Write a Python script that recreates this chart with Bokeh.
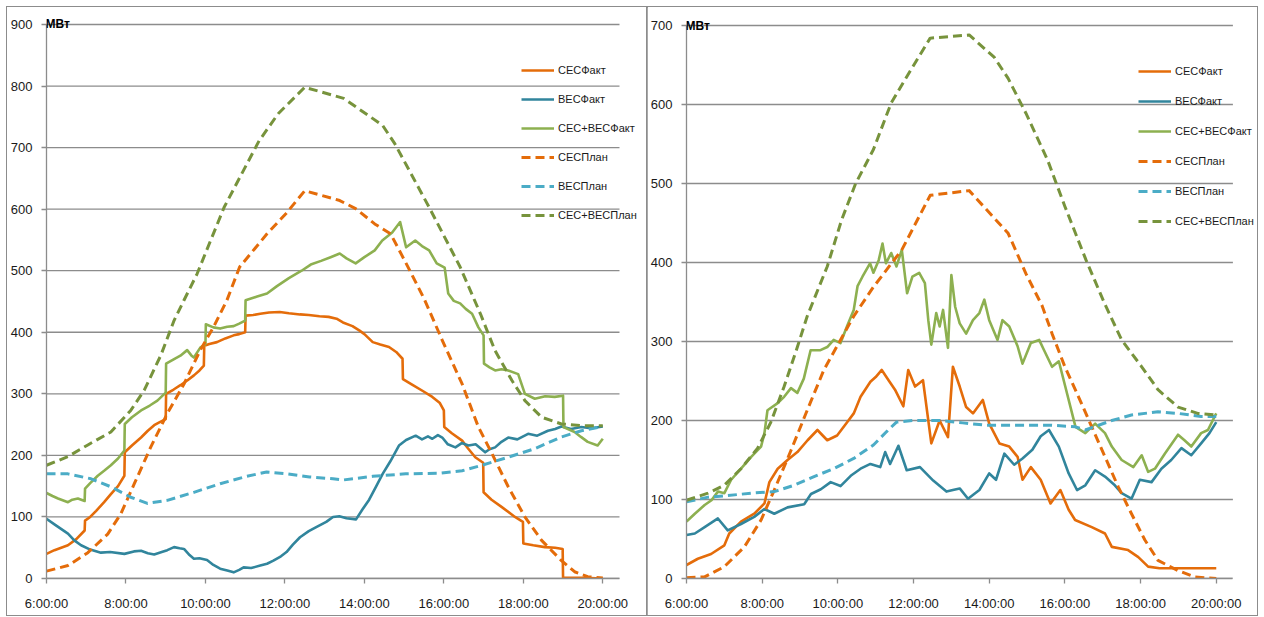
from bokeh.plotting import figure
from bokeh.layouts import row, column
from bokeh.models import (FixedTicker, CustomJSTickFormatter, Label, Legend,
                          LegendItem, Range1d, Spacer)
from bokeh.embed import file_html
from bokeh.resources import INLINE

FONT = "Liberation Sans"

# ---------------- data (hour of day, MW) ----------------
series_names = ["СЕСФакт", "ВЕСФакт", "СЕС+ВЕСФакт", "СЕСПлан", "ВЕСПлан", "СЕС+ВЕСПлан"]
x_ticks = [6, 8, 10, 12, 14, 16, 18, 20]

# left chart
left_ses_fact = [(6.00, 40), (6.20, 46), (6.54, 54), (6.75, 64), (6.96, 78), (6.97, 94), (7.10, 100), (7.25, 110),
                 (7.45, 124), (7.62, 137), (7.80, 150), (7.96, 167), (7.97, 205), (8.15, 216), (8.38, 229), (8.55, 240),
                 (8.71, 249), (8.85, 254), (9.00, 259), (9.01, 300), (9.20, 307), (9.37, 314), (9.55, 322), (9.71, 330),
                 (9.85, 338), (9.96, 346), (9.97, 378), (10.10, 381), (10.29, 384), (10.50, 390), (10.71, 395),
                 (10.85, 397), (11.00, 400), (11.01, 427), (11.20, 428), (11.38, 430), (11.60, 432), (11.87, 433),
                 (12.10, 431), (12.38, 429), (12.60, 428), (12.87, 426), (13.10, 425), (13.30, 422), (13.46, 416),
                 (13.70, 410), (13.87, 403), (14.00, 397), (14.21, 384), (14.40, 380), (14.62, 376), (14.80, 368),
                 (14.96, 357), (14.97, 324), (15.20, 315), (15.46, 305), (15.71, 295), (15.90, 285), (16.00, 273),
                 (16.01, 246), (16.20, 236), (16.46, 224), (16.60, 212), (16.79, 197), (16.99, 188), (17.00, 140),
                 (17.20, 128), (17.46, 116), (17.79, 100), (17.99, 92), (18.00, 57), (18.25, 54), (18.54, 51),
                 (18.80, 50), (18.99, 48), (19.00, 1), (19.50, 1), (20.00, 0)]
left_ves_fact = [(6.00, 97), (6.20, 88), (6.54, 73), (6.70, 62), (6.87, 54), (7.10, 47), (7.37, 42), (7.60, 43),
                 (7.96, 40), (8.20, 44), (8.38, 45), (8.55, 41), (8.71, 39), (8.90, 43), (9.04, 46), (9.21, 51),
                 (9.35, 49), (9.46, 48), (9.60, 38), (9.71, 32), (9.85, 33), (10.04, 30), (10.20, 22), (10.37, 16),
                 (10.55, 13), (10.71, 10), (10.85, 14), (10.96, 18), (11.15, 17), (11.38, 21), (11.55, 24),
                 (11.71, 29), (11.90, 36), (12.04, 43), (12.20, 55), (12.38, 67), (12.60, 77), (12.80, 84),
                 (13.04, 92), (13.21, 100), (13.37, 101), (13.55, 98), (13.79, 96), (13.95, 112), (14.12, 128),
                 (14.30, 150), (14.46, 170), (14.65, 190), (14.87, 216), (15.05, 225), (15.29, 232), (15.45, 226),
                 (15.60, 231), (15.71, 227), (15.85, 233), (15.96, 229), (16.10, 218), (16.29, 213), (16.45, 220),
                 (16.62, 216), (16.80, 218), (17.04, 205), (17.15, 210), (17.29, 213), (17.45, 222), (17.62, 229),
                 (17.85, 226), (18.12, 235), (18.35, 232), (18.62, 240), (18.80, 243), (18.96, 247), (19.20, 243),
                 (19.46, 246), (19.70, 244), (20.00, 247)]
left_sum_fact = [(6.00, 139), (6.15, 134), (6.29, 130), (6.54, 124), (6.65, 128), (6.79, 130), (6.96, 126),
                 (6.97, 146), (7.10, 155), (7.29, 167), (7.45, 175), (7.62, 184), (7.80, 195), (7.96, 208),
                 (7.97, 251), (8.15, 262), (8.38, 273), (8.60, 281), (8.79, 289), (9.00, 302), (9.01, 349),
                 (9.20, 356), (9.37, 362), (9.54, 371), (9.65, 362), (9.71, 359), (9.87, 375), (10.00, 381),
                 (10.01, 413), (10.20, 408), (10.37, 406), (10.55, 409), (10.71, 410), (10.85, 414), (11.00, 419),
                 (11.01, 452), (11.30, 458), (11.55, 463), (11.80, 475), (12.10, 488), (12.42, 500), (12.65, 510),
                 (12.91, 516), (13.15, 522), (13.38, 528), (13.55, 520), (13.78, 512), (14.00, 522), (14.26, 533),
                 (14.45, 549), (14.70, 562), (14.90, 579), (15.05, 538), (15.28, 549), (15.45, 540), (15.63, 533),
                 (15.82, 512), (16.02, 505), (16.11, 463), (16.25, 451), (16.41, 447), (16.55, 438), (16.71, 430),
                 (16.87, 408), (17.00, 395), (17.01, 349), (17.15, 343), (17.29, 338), (17.45, 340), (17.62, 338),
                 (17.87, 332), (18.04, 300), (18.29, 292), (18.55, 296), (18.79, 295), (19.00, 297), (19.01, 246),
                 (19.29, 238), (19.45, 230), (19.62, 222), (19.87, 216), (20.00, 227)]
left_ses_plan = [(6.00, 12), (6.54, 21), (7.04, 42), (7.54, 72), (7.87, 105), (8.21, 154), (8.62, 213), (9.04, 268),
                 (9.46, 316), (9.87, 371), (10.20, 408), (10.54, 452), (10.86, 506), (11.55, 560), (12.03, 593),
                 (12.50, 630), (13.38, 614), (13.78, 601), (14.26, 576), (14.66, 560), (15.05, 512), (15.50, 455),
                 (15.96, 387), (16.46, 316), (16.87, 246), (17.21, 203), (17.62, 149), (18.04, 100), (18.46, 62),
                 (18.96, 29), (19.29, 11), (19.62, 3), (20.00, 1)]
left_ves_plan = [(6.00, 170), (6.54, 170), (7.12, 162), (7.62, 149), (8.12, 132), (8.54, 122), (9.04, 127),
                 (9.71, 140), (10.37, 154), (11.04, 166), (11.54, 173), (12.04, 170), (12.62, 165), (13.21, 162),
                 (13.46, 160), (14.21, 166), (15.04, 170), (15.87, 171), (16.46, 175), (16.96, 184), (17.62, 197),
                 (18.29, 211), (18.96, 230), (19.46, 240), (20.00, 247)]
left_sum_plan = [(6.00, 184), (6.54, 198), (7.04, 217), (7.62, 238), (8.12, 273), (8.46, 306), (8.88, 363),
                 (9.21, 419), (9.46, 452), (9.79, 495), (10.47, 603), (11.35, 711), (11.83, 755), (12.50, 798),
                 (13.48, 780), (14.46, 736), (14.76, 707), (15.63, 603), (16.41, 506), (16.92, 430), (17.29, 370),
                 (17.71, 322), (18.04, 289), (18.46, 262), (18.96, 251), (19.54, 248), (20.00, 248)]

# right chart
right_ses_fact = [(6.00, 17), (6.30, 25), (6.65, 31), (7.00, 42), (7.13, 57), (7.44, 72), (7.79, 82), (8.06, 95),
                  (8.19, 122), (8.41, 139), (8.67, 150), (8.93, 160), (9.20, 175), (9.46, 188), (9.72, 175),
                  (9.98, 181), (10.25, 198), (10.42, 209), (10.60, 230), (10.86, 249), (11.00, 255), (11.16, 264),
                  (11.34, 251), (11.51, 239), (11.73, 218), (11.86, 264), (12.04, 243), (12.25, 251), (12.47, 171),
                  (12.69, 200), (12.91, 179), (13.04, 268), (13.22, 243), (13.39, 217), (13.57, 209), (13.83, 226),
                  (14.00, 196), (14.27, 171), (14.53, 167), (14.75, 154), (14.88, 125), (15.10, 141), (15.36, 125),
                  (15.62, 95), (15.88, 112), (16.10, 87), (16.27, 74), (16.71, 65), (17.06, 57), (17.24, 40),
                  (17.67, 36), (17.94, 27), (18.20, 15), (18.50, 13), (20.00, 13)]
right_ves_fact = [(6.00, 55), (6.22, 57), (6.48, 65), (6.83, 76), (7.09, 61), (7.44, 69), (7.79, 78), (8.06, 88),
                  (8.32, 82), (8.67, 90), (9.11, 94), (9.29, 107), (9.55, 113), (9.81, 122), (10.07, 117),
                  (10.34, 130), (10.60, 139), (10.86, 145), (11.12, 141), (11.25, 160), (11.38, 145), (11.60, 168),
                  (11.82, 137), (12.17, 141), (12.52, 124), (12.87, 110), (13.04, 112), (13.22, 114), (13.44, 101),
                  (13.74, 112), (14.00, 133), (14.18, 125), (14.40, 158), (14.66, 144), (14.88, 152), (15.14, 163),
                  (15.36, 180), (15.58, 188), (15.84, 167), (16.10, 133), (16.32, 112), (16.54, 118), (16.80, 137),
                  (17.06, 129), (17.32, 118), (17.50, 108), (17.76, 101), (17.98, 125), (18.29, 122), (18.55, 139),
                  (18.81, 150), (19.08, 165), (19.34, 156), (19.60, 171), (19.82, 184), (20.00, 198)]
right_sum_fact = [(6.00, 72), (6.22, 82), (6.48, 93), (6.66, 99), (6.83, 110), (7.00, 108), (7.18, 125), (7.44, 139),
                  (7.71, 154), (7.97, 167), (8.06, 184), (8.14, 213), (8.41, 222), (8.58, 230), (8.76, 241),
                  (8.93, 235), (9.10, 253), (9.28, 289), (9.54, 289), (9.72, 293), (9.89, 302), (10.07, 298),
                  (10.24, 319), (10.42, 340), (10.52, 370), (10.65, 382), (10.85, 399), (10.94, 387), (11.08, 403),
                  (11.18, 424), (11.27, 399), (11.41, 412), (11.55, 395), (11.69, 416), (11.83, 361), (11.97, 382),
                  (12.15, 387), (12.30, 374), (12.39, 327), (12.47, 296), (12.60, 336), (12.69, 319), (12.78, 340),
                  (12.91, 292), (13.00, 384), (13.10, 344), (13.22, 323), (13.39, 310), (13.57, 327), (13.74, 336),
                  (13.87, 353), (14.00, 327), (14.22, 302), (14.35, 327), (14.53, 319), (14.75, 294), (14.88, 272),
                  (15.10, 298), (15.32, 302), (15.45, 289), (15.66, 268), (15.84, 275), (16.01, 243), (16.28, 192),
                  (16.54, 184), (16.80, 196), (17.06, 184), (17.24, 167), (17.50, 150), (17.81, 141), (18.03, 156),
                  (18.20, 135), (18.38, 139), (18.64, 158), (18.99, 182), (19.16, 175), (19.34, 167), (19.60, 184),
                  (19.78, 188), (20.00, 209)]
right_ses_plan = [(6.00, 1), (6.48, 2), (7.00, 15), (7.53, 40), (7.97, 74), (8.32, 112), (8.76, 162), (9.19, 213),
                  (9.63, 264), (10.07, 302), (10.42, 332), (10.94, 369), (11.69, 416), (12.44, 485), (13.47, 491),
                  (14.50, 437), (14.97, 386), (15.40, 345), (15.66, 310), (16.00, 268), (16.36, 230), (16.71, 192),
                  (17.06, 154), (17.41, 116), (17.76, 82), (18.11, 49), (18.46, 23), (18.99, 10), (19.43, 2),
                  (20.00, 0)]
right_ves_plan = [(6.00, 97), (6.57, 103), (7.09, 105), (7.71, 108), (8.32, 110), (8.84, 118), (9.37, 129),
                  (9.89, 139), (10.42, 152), (10.94, 169), (11.29, 186), (11.55, 198), (11.99, 200), (12.69, 200),
                  (13.30, 197), (13.91, 194), (14.79, 194), (15.66, 194), (16.28, 192), (16.54, 188), (16.89, 194),
                  (17.24, 200), (17.76, 207), (18.46, 211), (18.99, 209), (19.60, 205), (20.00, 205)]
right_sum_plan = [(6.00, 99), (6.57, 108), (7.00, 118), (7.44, 139), (7.88, 165), (8.23, 198), (8.58, 243),
                  (8.93, 293), (9.19, 332), (9.72, 395), (10.10, 454), (10.47, 500), (10.94, 543), (11.41, 602),
                  (11.88, 640), (12.44, 684), (13.47, 688), (14.13, 660), (14.50, 633), (14.97, 589), (15.54, 530),
                  (16.00, 471), (16.56, 403), (17.05, 348), (17.50, 302), (18.03, 268), (18.46, 239), (18.99, 217),
                  (19.51, 209), (20.00, 207)]

# ---------------- styles ----------------
STYLES = [
    dict(color="#E46C0A", dash="solid", width=2.6),
    dict(color="#31859C", dash="solid", width=2.6),
    dict(color="#8DB050", dash="solid", width=2.6),
    dict(color="#E46C0A", dash="9 5", width=3),
    dict(color="#4BACC6", dash="9 5", width=3),
    dict(color="#77933C", dash="9 5", width=3),
]
GRID = "#8c8c8c"


def make_panel(width, x_view_end, x_axis_end, y_view_end, ymax, data, legend_loc, legend_spacing):
    p = figure(width=width, height=608, x_range=Range1d(6, x_view_end), y_range=Range1d(0, y_view_end),
               output_backend="svg", toolbar_location=None,
               min_border_left=35, min_border_right=0,
               min_border_top=0, min_border_bottom=37,
               styles={"outline": "1px solid #8c8c8c"})
    p.outline_line_color = None
    p.background_fill_color = "white"
    p.xgrid.visible = False
    p.ygrid.visible = False

    y_ticks = list(range(0, ymax + 1, 100))
    # horizontal grid lines limited to the axis extent
    p.segment(x0=[6] * len(y_ticks), x1=[x_axis_end] * len(y_ticks), y0=y_ticks, y1=y_ticks,
              line_color=GRID, line_width=1.3, level="underlay")

    p.yaxis.ticker = FixedTicker(ticks=y_ticks)
    p.xaxis.ticker = FixedTicker(ticks=x_ticks)
    p.xaxis.formatter = CustomJSTickFormatter(code="return Math.round(tick) + ':00:00';")
    p.yaxis.bounds = (0, ymax)
    p.xaxis.bounds = (6, x_axis_end)
    for ax in (p.xaxis[0], p.yaxis[0]):
        ax.axis_line_color = GRID
        ax.axis_line_width = 1.3
        ax.major_tick_line_color = GRID
        ax.major_tick_line_width = 1.3
        ax.minor_tick_line_color = None
        ax.major_tick_in = 0
        ax.major_tick_out = 5
        ax.major_label_text_font = FONT
        ax.major_label_text_font_size = "13px"
        ax.major_label_text_color = "#1a1a1a"
    p.yaxis.major_label_standoff = 9
    p.xaxis.major_label_standoff = 12

    items = []
    for name, pts, st in zip(series_names, data, STYLES):
        xs = [a for a, _ in pts]
        ys = [b for _, b in pts]
        r = p.line(xs, ys, line_color=st["color"], line_width=st["width"],
                   line_dash=st["dash"], line_join="round")
        items.append(LegendItem(label=name, renderers=[r]))

    legend = Legend(items=items, location=legend_loc, orientation="vertical",
                    label_text_font=FONT, label_text_font_size="11px", label_text_color="#1a1a1a",
                    glyph_width=33, glyph_height=20, label_height=20, label_standoff=4,
                    spacing=legend_spacing, padding=0, margin=0,
                    border_line_color=None, background_fill_alpha=0)
    p.add_layout(legend)

    p.add_layout(Label(x=6, y=ymax, text="МВт", text_font=FONT, text_font_size="12px",
                       text_font_style="bold", text_baseline="middle", text_align="left",
                       x_offset=-1, text_color="#000000"))
    return p


p1 = make_panel(640, 21.125, 20.42, 927.6, 900,
                [left_ses_fact, left_ves_fact, left_sum_fact, left_ses_plan, left_ves_plan, left_sum_plan],
                legend_loc=(475, 353), legend_spacing=9)
p2 = make_panel(610, 21.09, 20.44, 722.8, 700,
                [right_ses_fact, right_ves_fact, right_sum_fact, right_ses_plan, right_ves_plan, right_sum_plan],
                legend_loc=(452, 347), legend_spacing=10)

layout = column(Spacer(height=7), row(Spacer(width=7), p1, p2))
open("out.html", "w").write(file_html(layout, INLINE))
